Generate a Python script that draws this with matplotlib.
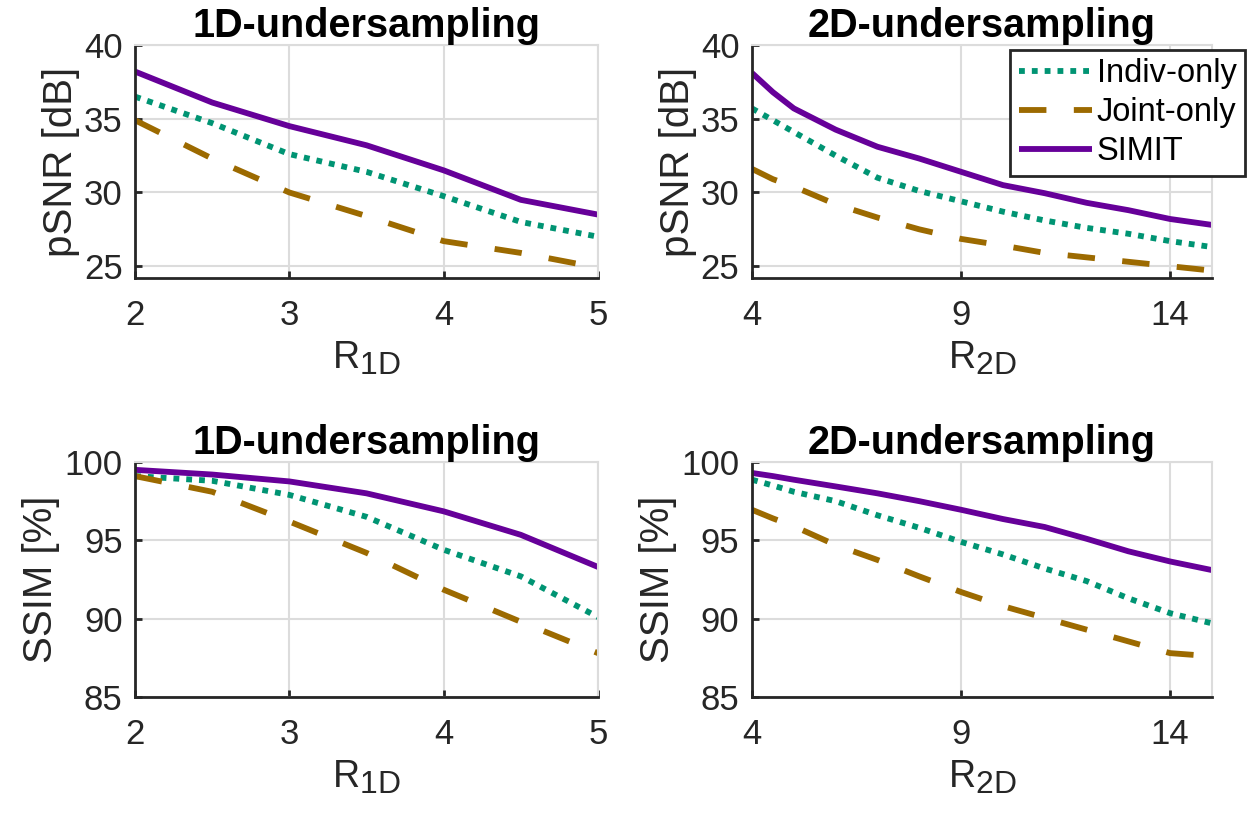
import matplotlib
matplotlib.use("Agg")
import matplotlib.pyplot as plt
import matplotlib._mathtext as mathtext_internals

plt.rcParams["font.family"] = ["Liberation Sans", "DejaVu Sans"]
# MATLAB-style subscripts are less shrunk than matplotlib's default
mathtext_internals.SHRINK_FACTOR = 0.85

# 1D undersampling acceleration factors
r1d = [2, 2.5, 3, 3.5, 4, 4.5, 5]
psnr1d_indiv = [36.5, 34.7, 32.6, 31.4, 29.75, 28.0, 27.0]
psnr1d_joint = [34.9, 32.3, 30.0, 28.4, 26.7, 25.9, 24.9]
psnr1d_simit = [38.2, 36.1, 34.5, 33.2, 31.5, 29.5, 28.5]
ssim1d_indiv = [99.1, 98.8, 97.9, 96.5, 94.4, 92.7, 90.1]
ssim1d_joint = [99.1, 98.1, 96.2, 94.2, 91.85, 89.8, 87.8]
ssim1d_simit = [99.5, 99.2, 98.76, 98.0, 96.85, 95.35, 93.3]

# 2D undersampling acceleration factors
r2d = [4, 4.5, 5, 6, 7, 8, 9, 10, 11, 12, 13, 14, 15]
psnr2d_indiv = [35.7, 34.9, 34.1, 32.5, 31.0, 30.1, 29.4, 28.7, 28.1, 27.6, 27.2, 26.7, 26.3]
psnr2d_joint = [31.6, 30.9, 30.4, 29.2, 28.3, 27.5, 26.85, 26.4, 25.9, 25.6, 25.3, 25.0, 24.7]
psnr2d_simit = [38.1, 36.8, 35.7, 34.26, 33.1, 32.3, 31.4, 30.5, 29.95, 29.3, 28.8, 28.2, 27.8]
ssim2d_indiv = [98.87, 98.5, 98.1, 97.5, 96.6, 95.8, 94.9, 94.1, 93.2, 92.4, 91.3, 90.35, 89.7]
ssim2d_joint = [96.95, 96.4, 95.9, 94.7, 93.75, 92.7, 91.7, 90.8, 90.05, 89.3, 88.55, 87.8, 87.6]
ssim2d_simit = [99.3, 99.1, 98.87, 98.44, 98.0, 97.5, 96.95, 96.36, 95.85, 95.1, 94.3, 93.65, 93.1]

labels = ["Indiv-only", "Joint-only", "SIMIT"]
GREEN = "#009473"
BROWN = "#9C6A00"
PURPLE = "#660099"
DARK = "#262626"
GRID = "#dcdcdc"
LW = 4.2

fig = plt.figure(figsize=(12.52, 8.23), dpi=100)

W, H = 1252, 823


def axes_at(left, top, right, bottom):
    return fig.add_axes([left / W, 1 - bottom / H, (right - left) / W, (bottom - top) / H])


def draw(ax, x, indiv, joint, simit, title, xlabel, ylabel, xlim, ylim, xticks, yticks):
    ax.plot(x, indiv, color=GREEN, lw=LW, dashes=(1, 1.2), dash_capstyle="butt",
            label=labels[0])
    ax.plot(x, joint, color=BROWN, lw=LW, dashes=(4.7, 4.7), dash_capstyle="butt",
            label=labels[1])
    ax.plot(x, simit, color=PURPLE, lw=LW, solid_capstyle="butt", label=labels[2])
    ax.set_xlim(*xlim)
    ax.set_ylim(*ylim)
    ax.set_xticks(xticks)
    ax.set_yticks(yticks)
    ax.grid(True, color=GRID, lw=1.5)
    ax.set_axisbelow(True)
    for s in ("top", "right"):
        ax.spines[s].set_color(GRID)
        ax.spines[s].set_linewidth(1.5)
    for s in ("left", "bottom"):
        ax.spines[s].set_color(DARK)
        ax.spines[s].set_linewidth(2.0)
    ax.tick_params(direction="in", length=5, width=2, color=DARK,
                   labelsize=25, labelcolor=DARK)
    ax.tick_params(axis="x", pad=15)
    ax.tick_params(axis="y", pad=9)
    ax.set_title(title, fontsize=28.5, fontweight="bold", pad=3)
    ax.set_xlabel(xlabel, fontsize=27, color=DARK, labelpad=6)
    ax.set_ylabel(ylabel, fontsize=29, color=DARK, labelpad=3)


ax1 = axes_at(135, 45, 598, 278)
draw(ax1, r1d, psnr1d_indiv, psnr1d_joint, psnr1d_simit, "1D-undersampling",
     r"R$_{\mathregular{1D}}$", "pSNR [dB]", (2, 5), (24.2, 40), [2, 3, 4, 5], [25, 30, 35, 40])

ax2 = axes_at(752, 45, 1212, 278)
draw(ax2, r2d, psnr2d_indiv, psnr2d_joint, psnr2d_simit, "2D-undersampling",
     r"R$_{\mathregular{2D}}$", "pSNR [dB]", (4, 15), (24.2, 40), [4, 9, 14], [25, 30, 35, 40])

ax3 = axes_at(135, 462, 598, 697)
draw(ax3, r1d, ssim1d_indiv, ssim1d_joint, ssim1d_simit, "1D-undersampling",
     r"R$_{\mathregular{1D}}$", "SSIM [%]", (2, 5), (85, 100), [2, 3, 4, 5], [85, 90, 95, 100])

ax4 = axes_at(752, 462, 1212, 697)
draw(ax4, r2d, ssim2d_indiv, ssim2d_joint, ssim2d_simit, "2D-undersampling",
     r"R$_{\mathregular{2D}}$", "SSIM [%]", (4, 15), (85, 100), [4, 9, 14], [85, 90, 95, 100])

leg = ax2.legend(loc="upper right", bbox_to_anchor=(1245 / W, 1 - 50 / H),
                 bbox_transform=fig.transFigure, fontsize=23.5, frameon=True,
                 fancybox=False, edgecolor=DARK, framealpha=1,
                 handlelength=2.25, handletextpad=0.15, borderpad=0.25,
                 labelspacing=0.25, borderaxespad=0)
leg.get_frame().set_linewidth(2.0)

fig.savefig("out.png", dpi=100, facecolor="white")
